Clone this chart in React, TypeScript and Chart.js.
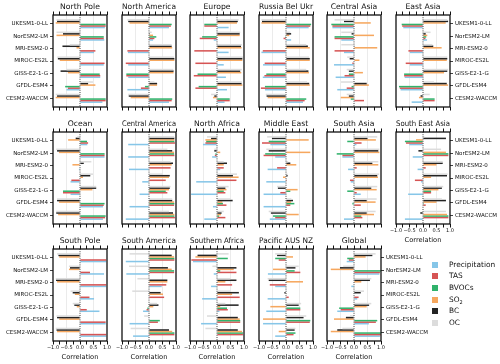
import React, { useEffect, useRef } from 'react';
import { Chart, registerables } from 'chart.js';

Chart.register(...registerables);

const FONT = 'DejaVu Sans';

const MODELS = ['UKESM1-0-LL', 'NorESM2-LM', 'MRI-ESM2-0', 'MIROC-ES2L', 'GISS-E2-1-G', 'GFDL-ESM4', 'CESM2-WACCM'];
const VARIABLES = ['Precipitation', 'TAS', 'BVOCs', 'SO₂', 'BC', 'OC'];
const COLORS = ['#86c6e8', '#d65454', '#30b26b', '#f6a75e', '#232323', '#dcdcdc'];
const X_LABEL_TICKS = [-1, -0.5, 0, 0.5, 1];

// rows: Precipitation, TAS, BVOCs, SO2, BC, OC ; columns: models in MODELS order
type V = (number | null)[];
const northPole: V[] = [
  [0.92, 0.9, 0.52, 0.88, 0.75, -0.5, 0.83],
  [0.95, 0.88, 0.57, 0.91, 0.75, -0.45, 0.95],
  [0.95, 0.88, null, null, 0.73, -0.55, 0.95],
  [-0.9, -0.87, -0.13, -0.75, -0.45, 0.57, -0.9],
  [-0.85, -0.63, -0.65, -0.82, -0.72, 0.3, -0.85],
  [-0.87, -0.87, -0.38, -0.84, -0.5, 0.48, -0.9],
];
const northAmerica: V[] = [
  [0.74, 0.15, -0.78, -0.77, -0.77, -0.8, 0.74],
  [0.81, 0.2, -0.8, -0.86, -0.84, -0.3, 0.84],
  [0.84, 0.27, null, null, -0.84, -0.15, 0.86],
  [-0.72, 0.15, 0.86, 0.94, 0.91, 0.3, -0.68],
  [-0.77, 0.03, 0.84, 0.94, 0.91, 0.3, -0.75],
  [-0.8, 0.1, 0.84, 0.92, 0.9, 0.2, -0.77],
];
const europe: V[] = [
  [0.43, -0.12, 0.43, 0.25, 0.33, 0.37, 0.28],
  [-0.47, -0.64, -0.84, -0.8, -0.86, -0.8, 0.47],
  [-0.47, -0.55, null, null, -0.72, -0.68, 0.47],
  [0.74, 0.84, 0.91, 0.94, 0.9, 0.94, -0.15],
  [0.77, 0.84, 0.89, 0.94, 0.86, 0.91, -0.1],
  [0.8, 0.86, 0.92, 0.96, 0.92, 0.92, -0.22],
];
const russiaBelUkr: V[] = [
  [0.84, 0.19, -0.91, -0.85, -0.86, -0.78, 0.63],
  [0.9, -0.09, -0.86, -0.79, -0.8, -0.93, 0.69],
  [0.93, -0.03, null, null, -0.73, -0.78, 0.75],
  [-0.91, 0.12, 0.88, 0.88, 0.85, 0.88, -0.68],
  [-0.89, 0.19, 0.81, 0.88, 0.83, 0.86, -0.72],
  [-0.91, 0.16, 0.75, 0.85, 0.75, 0.78, -0.75],
];
const centralAsia: V[] = [
  [-0.8, -0.47, -0.37, -0.74, -0.68, -0.62, 0.02],
  [-0.8, -0.72, -0.72, -0.06, -0.35, -0.27, 0.37],
  [-0.84, -0.72, null, null, -0.19, -0.09, -0.12],
  [0.62, 0.74, 0.86, 0.2, 0.33, 0.55, -0.49],
  [-0.37, -0.09, 0.02, -0.16, -0.19, 0.47, -0.19],
  [-0.72, -0.47, -0.47, -0.25, -0.27, -0.48, -0.27],
];
const eastAsia: V[] = [
  [-0.73, 0.15, -0.49, -0.49, -0.68, -0.83, -0.42],
  [-0.77, 0.09, -0.54, -0.64, -0.7, -0.86, 0.43],
  [-0.79, 0.12, null, null, -0.7, -0.89, 0.43],
  [0.84, 0.16, 0.69, 0.88, 0.78, 0.93, -0.15],
  [0.93, 0.1, 0.38, 0.9, 0.9, 0.88, -0.09],
  [0.9, 0.28, 0.35, 0.9, 0.93, 0.41, 0.25],
];
const ocean: V[] = [
  [0.27, 0.91, -0.04, -0.35, -0.35, 0.85, 0.85],
  [0.3, 0.91, 0.0, -0.32, -0.63, 0.88, 0.93],
  [0.26, 0.91, null, null, -0.63, 0.91, 0.95],
  [-0.44, -0.78, -0.28, 0.11, 0.46, -0.78, -0.81],
  [-0.16, -0.85, 0.14, 0.38, 0.6, -0.85, -0.88],
  [-0.1, -0.88, 0.42, 0.48, 0.6, -0.85, -0.88],
];
const centralAmerica: V[] = [
  [-0.77, -0.77, -0.74, -0.25, -0.35, -0.72, -0.86],
  [0.96, 0.94, 0.8, 0.62, 0.68, 0.93, 0.96],
  [0.94, 0.93, null, null, 0.62, 0.94, 0.94],
  [0.94, 0.93, 0.84, 0.74, 0.74, 0.93, 0.94],
  [0.94, 0.86, 0.89, 0.77, 0.77, 0.86, 0.89],
  [0.93, 0.68, 0.8, 0.5, 0.8, 0.86, 0.74],
];
const northAfrica: V[] = [
  [-0.52, -0.18, 0.12, -0.77, -0.96, -0.15, -0.47],
  [-0.43, -0.08, 0.25, 0.72, 0.31, 0.35, 0.31],
  [-0.4, -0.06, null, null, 0.25, 0.22, 0.08],
  [-0.43, 0.12, 0.25, 0.8, 0.35, 0.2, 0.15],
  [-0.22, -0.1, 0.37, 0.59, 0.31, 0.58, 0.17],
  [-0.37, -0.1, 0.25, 0.74, 0.43, 0.5, 0.25],
];
const middleEast: V[] = [
  [-0.58, -0.4, -0.68, -0.73, -0.83, -0.83, -0.6],
  [-0.89, -0.83, -0.33, 0.03, -0.21, 0.16, -0.4],
  [-0.64, -0.77, null, null, 0.16, 0.31, -0.48],
  [0.84, 0.9, 0.38, -0.11, 0.43, 0.19, 0.47],
  [-0.52, -0.64, 0.16, 0.06, -0.3, 0.26, -0.56],
  [-0.7, -0.73, 0.08, 0.06, -0.33, 0.2, -0.64],
];
const southAsia: V[] = [
  [0.09, -0.43, -0.22, -0.12, 0.25, 0.0, -0.37],
  [0.28, -0.43, 0.1, -0.15, 0.1, 0.25, 0.31],
  [-0.25, -0.64, null, null, -0.25, -0.06, 0.27],
  [0.81, 0.94, 0.9, 0.89, 0.84, 0.8, 0.74],
  [0.5, 0.9, 0.68, 0.86, 0.64, 0.47, 0.47],
  [0.86, 0.94, 0.9, 0.93, 0.86, 0.84, 0.8],
];
const southEastAsia: V[] = [
  [-0.51, -0.38, -0.2, -0.07, -0.55, 0.0, -0.67],
  [-0.63, 0.94, 0.1, -0.3, 0.3, 0.1, 0.94],
  [-0.67, 0.94, null, null, 0.3, 0.03, 0.94],
  [-0.26, 0.85, 0.5, 0.3, 0.57, 0.5, 0.89],
  [0.85, -0.17, 0.73, 0.89, 0.7, 0.85, -0.1],
  [0.05, 0.67, 0.73, 0.91, 0.75, 0.7, 0.85],
];
const southPole: V[] = [
  [0.97, 0.89, 0.97, 0.52, 0.72, 0.95, 0.97],
  [0.97, 0.37, 0.97, 0.35, 0.25, 0.95, 0.97],
  [0, 0, null, null, 0, 0, 0],
  [-0.77, -0.41, -0.85, -0.19, -0.12, -0.77, -0.85],
  [-0.8, -0.37, -0.89, -0.27, -0.21, -0.85, -0.87],
  [-0.85, -0.41, -0.9, -0.35, -0.27, -0.87, -0.9],
];
const southAmerica: V[] = [
  [-0.86, -0.84, 0.47, 0.0, -0.22, -0.72, -0.59],
  [0.94, 0.93, 0.64, 0.56, -0.09, 0.33, 0.94],
  [0.94, 0.93, null, null, -0.06, 0.4, 0.94],
  [0.93, 0.84, 0.68, 0.52, 0.16, 0.0, 0.86],
  [0.84, 0.7, 0.68, 0.43, 0.35, 0.0, 0.74],
  [-0.72, -0.74, -0.43, -0.62, 0.3, -0.18, -0.68],
];
const southernAfrica: V[] = [
  [-0.89, -0.12, -0.22, -0.55, 0.09, -0.59, 0.0],
  [-0.95, 0.72, 0.56, 0.84, 0.4, 0.86, 0.96],
  [0.4, 0.12, null, null, 0.37, 0.86, 0.96],
  [-0.8, 0.62, 0.31, 0.56, 0.12, 0.84, 0.93],
  [-0.72, 0.72, 0.72, 0.81, 0.8, 0.77, 0.77],
  [0.43, -0.17, 0.5, 0.5, 0.31, -0.37, -0.43],
];
const pacificAusNz: V[] = [
  [0.0, -0.67, -0.4, -0.68, -0.73, -0.85, -0.4],
  [-0.27, 0.53, -0.6, 0.1, 0.53, 0.88, 0.28],
  [-0.4, 0.32, null, null, 0.53, 0.9, 0.35],
  [0.26, -0.48, 0.63, 0.02, -0.58, -0.85, -0.27],
  [-0.33, 0.35, -0.64, -0.06, 0.47, 0.65, 0.32],
  [-0.4, 0.47, -0.68, 0.03, 0.56, 0.75, 0.35],
];
const globalMean: V[] = [
  [-0.27, 0.94, -0.1, 0.12, -0.62, 0.55, 0.96],
  [-0.19, 0.96, 0.0, 0.17, -0.49, 0.81, 0.99],
  [-0.25, 0.99, null, null, -0.55, 0.86, 0.99],
  [0.43, -0.86, 0.27, 0.0, 0.47, -0.74, -0.86],
  [0.68, -0.52, 0.59, 0.25, 0.56, -0.3, -0.62],
  [0.8, -0.4, 0.64, 0.37, 0.64, -0.15, -0.43],
];

type PanelSpec = {
  title: string; values: V[]; col: number; row: number;
  left?: boolean; right?: boolean; bottom?: boolean;
};

const PANELS: PanelSpec[] = [
  { title: 'North Pole', values: northPole, col: 0, row: 0, left: true },
  { title: 'North America', values: northAmerica, col: 1, row: 0 },
  { title: 'Europe', values: europe, col: 2, row: 0 },
  { title: 'Russia Bel Ukr', values: russiaBelUkr, col: 3, row: 0 },
  { title: 'Central Asia', values: centralAsia, col: 4, row: 0 },
  { title: 'East Asia', values: eastAsia, col: 5, row: 0, right: true },
  { title: 'Ocean', values: ocean, col: 0, row: 1, left: true },
  { title: 'Central America', values: centralAmerica, col: 1, row: 1 },
  { title: 'North Africa', values: northAfrica, col: 2, row: 1 },
  { title: 'Middle East', values: middleEast, col: 3, row: 1 },
  { title: 'South Asia', values: southAsia, col: 4, row: 1 },
  { title: 'South East Asia', values: southEastAsia, col: 5, row: 1, right: true, bottom: true },
  { title: 'South Pole', values: southPole, col: 0, row: 2, left: true, bottom: true },
  { title: 'South America', values: southAmerica, col: 1, row: 2, bottom: true },
  { title: 'Southern Africa', values: southernAfrica, col: 2, row: 2, bottom: true },
  { title: 'Pacific AUS NZ', values: pacificAusNz, col: 3, row: 2, bottom: true },
  { title: 'Global', values: globalMean, col: 4, row: 2, right: true, bottom: true },
];

const COL_X = [53, 122, 190, 259, 327, 396];
const ROW_Y = [15, 132, 249];
const PW = 54;
const PH = 92;

const decoPlugin = {
  id: 'deco',
  afterDatasetsDraw(chart: any) {
    const { ctx, chartArea } = chart;
    const x0 = chart.scales.x.getPixelForValue(0);
    ctx.save();
    ctx.strokeStyle = '#444';
    ctx.lineWidth = 1;
    ctx.setLineDash([1, 1.2]);
    ctx.beginPath();
    ctx.moveTo(x0, chartArea.top);
    ctx.lineTo(x0, chartArea.bottom);
    ctx.stroke();
    ctx.setLineDash([]);
    ctx.strokeStyle = '#111';
    ctx.lineWidth = 1.3;
    ctx.strokeRect(chartArea.left, chartArea.top, chartArea.right - chartArea.left, chartArea.bottom - chartArea.top);
    ctx.restore();
  },
};

const fmt = (v: number) => (v < 0 ? '−' : '') + Math.abs(v).toFixed(1);

function Panel({ p }: { p: PanelSpec }) {
  const ref = useRef<HTMLCanvasElement>(null);
  const L = p.left ? 52 : 10;
  const R = p.right ? 50 : 10;
  const T = 16;
  const B = p.bottom ? 22 : 6;
  const x = COL_X[p.col];
  const y = ROW_Y[p.row];
  const W = L + PW + R;
  const H = T + PH + B;
  const hasY = !!(p.left || p.right);

  useEffect(() => {
    const order = [5, 4, 3, 2, 1, 0];
    const datasets = order.map((vi) => ({
      label: VARIABLES[vi],
      data: p.values[vi].map((v, i) => ({ x: v, y: i })),
      backgroundColor: COLORS[vi],
      borderWidth: 0,
      categoryPercentage: 0.74,
      barPercentage: 1,
    }));
    const xGridColor = (c: any) =>
      c.tick && Math.abs(Math.abs(c.tick.value) - 0.5) < 1e-6 ? '#e6e6e6' : 'rgba(0,0,0,0)';
    const chart = new Chart(ref.current as HTMLCanvasElement, {
      type: 'bar',
      data: { datasets } as any,
      plugins: [decoPlugin],
      options: {
        indexAxis: 'y',
        responsive: false,
        animation: false,
        events: [],
        layout: { padding: 0, autoPadding: false } as any,
        plugins: { legend: { display: false }, tooltip: { enabled: false }, title: { display: false } },
        scales: {
          x: {
            type: 'linear', position: 'bottom', min: -1, max: 1,
            ticks: {
              stepSize: 0.25, autoSkip: false, maxRotation: 0, display: !!p.bottom,
              font: { size: 5, family: FONT }, color: '#111', padding: 0.5,
              callback: (v: any) => (X_LABEL_TICKS.some((t) => Math.abs(t - v) < 1e-6) ? fmt(Number(v)) : ''),
            },
            grid: { color: xGridColor, lineWidth: 0.8, drawTicks: true, tickLength: 3.5, tickColor: '#111', tickWidth: 1 },
            border: { display: false },
            title: { display: !!p.bottom, text: 'Correlation', color: '#111', font: { size: 6.7, family: FONT }, padding: { top: 0, bottom: 2 } },
            afterFit: (s: any) => { s.height = B; },
          },
          xt: {
            type: 'linear', position: 'top', min: -1, max: 1,
            ticks: { stepSize: 0.25, display: false },
            grid: { drawOnChartArea: false, drawTicks: true, tickLength: 3.5, tickColor: '#111', tickWidth: 1 },
            border: { display: false },
            title: { display: true, text: p.title, color: '#111', font: { size: 7.7, family: FONT }, padding: { top: 3.4, bottom: 0 } },
            afterFit: (s: any) => { s.height = T; },
          },
          y: {
            type: 'linear', position: p.right ? 'right' : 'left', reverse: true, min: -0.7, max: 6.7,
            offset: false,
            afterBuildTicks: (s: any) => { s.ticks = MODELS.map((_, i) => ({ value: i })); },
            ticks: {
              display: hasY, autoSkip: false, font: { size: 5.5, family: FONT }, color: '#111', padding: 2,
              callback: (v: any) => MODELS[Math.round(Number(v))] ?? '',
            },
            grid: { offset: false, drawOnChartArea: false, drawTicks: hasY, tickLength: 3, tickColor: '#111', tickWidth: 0.8 },
            border: { display: false },
            afterFit: (s: any) => { s.width = p.right ? R : L; },
          },
          y2: {
            type: 'linear', position: p.right ? 'left' : 'right', min: -0.7, max: 6.7,
            offset: false,
            ticks: { display: false },
            grid: { display: false },
            border: { display: false },
            afterFit: (s: any) => { s.width = p.right ? L : R; },
          },
        },
      } as any,
    });
    return () => chart.destroy();
  }, []);

  return (
    <canvas
      ref={ref}
      width={W}
      height={H}
      style={{ position: 'absolute', left: x - L, top: y - T, width: W, height: H }}
    />
  );
}

const LEGEND_Y = [264.5, 276.2, 287.8, 299.5, 311.2, 322.8];

function Legend() {
  return (
    <>
      {VARIABLES.map((name, i) => (
        <React.Fragment key={name}>
          <div style={{ position: 'absolute', left: 432, top: LEGEND_Y[i] - 3, width: 6, height: 6, background: COLORS[i] }} />
          <div
            style={{
              position: 'absolute', left: 449, top: LEGEND_Y[i] - 5, height: 10, lineHeight: '10px',
              fontSize: 7.4, fontFamily: FONT, color: '#111', whiteSpace: 'nowrap',
            }}
          >
            {name === 'SO₂' ? (<span>SO<sub style={{ fontSize: 5, verticalAlign: '-1.5px', lineHeight: 0 }}>2</sub></span>) : name}
          </div>
        </React.Fragment>
      ))}
    </>
  );
}

export default function App() {
  return (
    <div style={{ position: 'absolute', left: 0, top: 0, width: 500, height: 364, background: '#fff', overflow: 'hidden' }}>
      {PANELS.map((p) => (
        <Panel key={p.title} p={p} />
      ))}
      <Legend />
    </div>
  );
}
